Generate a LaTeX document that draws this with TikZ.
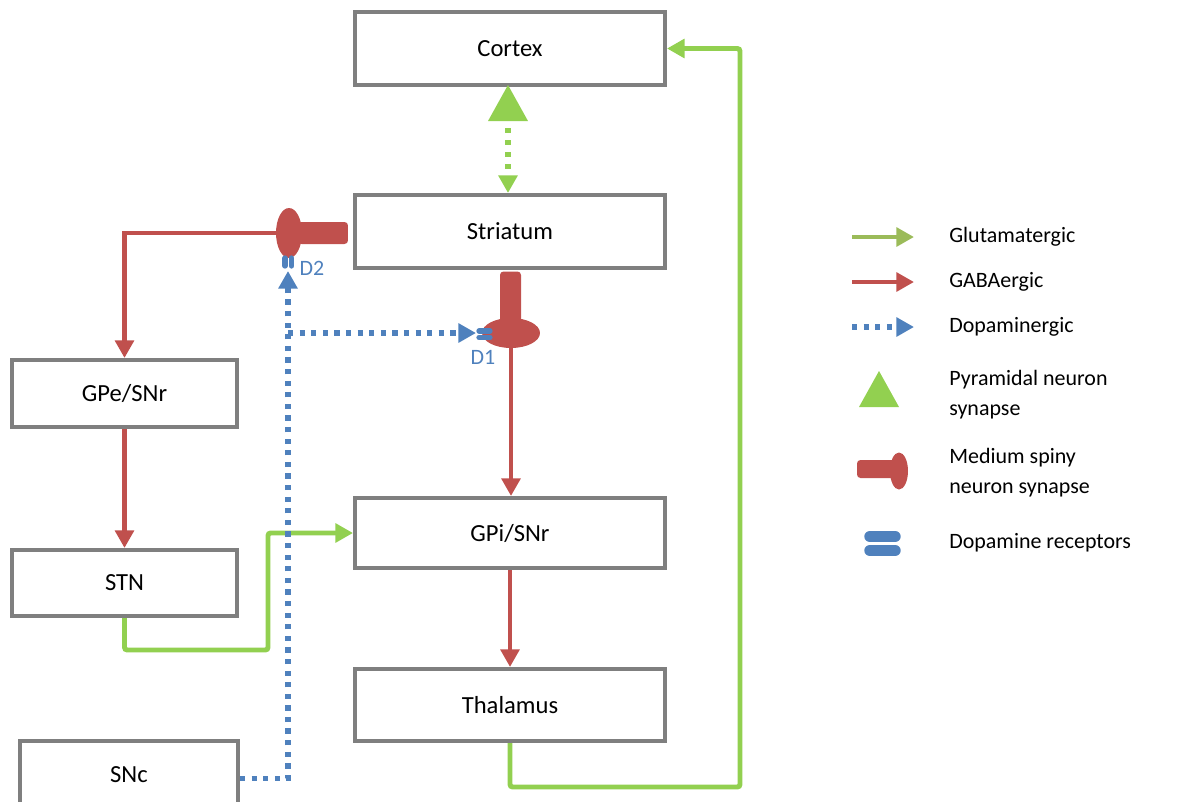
\documentclass[tikz,border=0pt]{standalone}
\usepackage{fontspec}
\setmainfont{Carlito}
\usetikzlibrary{arrows.meta,shapes.geometric}
\definecolor{glutamate}{RGB}{146,208,80}
\definecolor{glutlegend}{RGB}{155,187,89}
\definecolor{gaba}{RGB}{192,80,77}
\definecolor{dopamine}{RGB}{79,129,189}
\definecolor{boxgray}{RGB}{127,127,127}
\newcommand{\boxfont}{\fontsize{14}{17}\selectfont}
\newcommand{\legfont}{\fontsize{12.5}{17}\selectfont}
\tikzstyle{box}=[draw=boxgray, line width=2.3pt, fill=white, minimum width=6.2cm, minimum height=1.46cm, font=\boxfont]
\tikzstyle{sbox}=[box, minimum width=4.5cm, minimum height=1.34cm]
\tikzstyle{tip}=[-{Triangle[length=10pt,width=10.5pt]}]
\tikzstyle{gaba}=[tip, line width=2.6pt, color=gaba]
\tikzstyle{glut}=[tip, line width=2.8pt, color=glutamate, rounded corners=1.5pt]
\tikzstyle{dopa}=[tip, line width=3pt, color=dopamine, dash pattern=on 3pt off 3.6pt]
\tikzstyle{msbulb}=[ellipse, fill=gaba, inner sep=0pt]
\tikzstyle{msbar}=[rectangle, fill=gaba, inner sep=0pt, rounded corners=2pt]
\tikzstyle{recept}=[line width=4pt, color=dopamine, line cap=round]
\tikzstyle{legtext}=[anchor=west, align=left, font=\legfont, inner sep=0pt]

\begin{document}
\begin{tikzpicture}[x=0.02cm, y=-0.02cm]
  \useasboundingbox (0,0) rectangle (1178,802);
  \begin{scope}
  \clip (0,0) rectangle (1178,802);
  %% Boxes
  \draw (510,48.5) node[box] (Cortex) {Cortex};
  \draw (510,231.5) node[box] (Striatum) {Striatum};
  \draw (124.5,393.5) node[sbox] (GPe) {GPe/SNr};
  \draw (124.5,583) node[sbox, minimum height=1.32cm] (STN) {STN};
  \draw (510,533) node[box, minimum height=1.4cm] (GPi) {GPi/SNr};
  \draw (510,705) node[box, minimum height=1.44cm] (Thalamus) {Thalamus};
  \draw (129,775) node[sbox, minimum width=4.36cm, minimum height=1.36cm] (SNc) {SNc};

  %% Cortex <-> Striatum
  \fill[glutamate] (508,85) -- (528,121) -- (488,121) -- cycle;
  \coordinate (pyr) at (508,121);
  \draw[tip, line width=2.9pt, color=glutamate, dash pattern=on 2.9pt off 4pt, shorten <=4pt] (pyr) -- (Striatum.north -| pyr);

  %% Medium spiny synapses
  \draw (323,233) node[msbar, minimum width=1cm, minimum height=0.44cm] (barA) {};
  \draw (289,233) node[msbulb, minimum width=0.52cm, minimum height=1cm] (bulbA) {};
  \draw (510.5,298) node[msbar, minimum width=0.42cm, minimum height=1.06cm] (barB) {};
  \draw (511,333) node[msbulb, minimum width=1.16cm, minimum height=0.6cm] (bulbB) {};

  %% Dopamine receptors
  \draw[recept, line width=3pt] (285,258) -- (285,266);
  \draw[recept, line width=3pt] (291.5,258) -- (291.5,266);
  \draw[recept, line width=3pt] (479,331) -- (490,331);
  \draw[recept, line width=3pt] (479,337.5) -- (490,337.5);
  \coordinate (recA) at (288,271);
  \coordinate (recB) at (476,333);
  \draw (312,268) node[text=dopamine, font=\legfont] (D2) {D2};
  \draw (483,357) node[text=dopamine, font=\legfont] (D1) {D1};

  %% GABAergic
  \draw[gaba] (bulbA.west) -| (GPe.north);
  \draw[gaba] (GPe.south) -- (STN.north);
  \draw[gaba] (bulbB.south) -- (bulbB.south |- GPi.north);
  \draw[gaba] (GPi.south) -- (Thalamus.north);

  %% Glutamatergic
  \coordinate (k1) at (268,650);
  \coordinate (k2) at (740,787);
  \draw[glut] (STN.south) |- (k1) |- (GPi.west);
  \draw[glut] (Thalamus.south) |- (k2) |- (Cortex.east);

  %% Dopaminergic
  \coordinate (jn) at (288,333);
  \draw[dopa] ([yshift=-2pt]SNc.east) -| (recA);
  \draw[dopa] (jn) -- (recB);
  \end{scope}

  %% Legend things
  \draw[tip, line width=2.8pt, color=glutlegend] (852,237) -- (914,237);
  \draw[tip, line width=2.8pt, color=gaba] (852,282) -- (914,282);
  \draw[tip, line width=3pt, color=dopamine, dash pattern=on 3pt off 3.6pt] (852,327) -- (914,327);
  \fill[glutamate] (879,371) -- (899,407) -- (859,407) -- cycle;
  \fill[gaba, rounded corners=2pt] (857,460) rectangle (895,478);
  \fill[gaba] (899,471) ellipse [x radius=9, y radius=18.5];
  \draw[recept, line width=6.5pt] (870,536.5) -- (895,536.5);
  \draw[recept, line width=6.5pt] (870,550.5) -- (895,550.5);

  \draw (949,237) node[legtext] (lglu) {Glutamatergic};
  \draw (949,282) node[legtext] (lgaba) {GABAergic};
  \draw (949,327) node[legtext] (ldopa) {Dopaminergic};
  \draw (949,395) node[legtext] (lpyr) {Pyramidal neuron\\synapse};
  \draw (949,473) node[legtext] (lmsn) {Medium spiny\\neuron synapse};
  \draw (949,543) node[legtext] (lrec) {Dopamine receptors};
\end{tikzpicture}
\end{document}
